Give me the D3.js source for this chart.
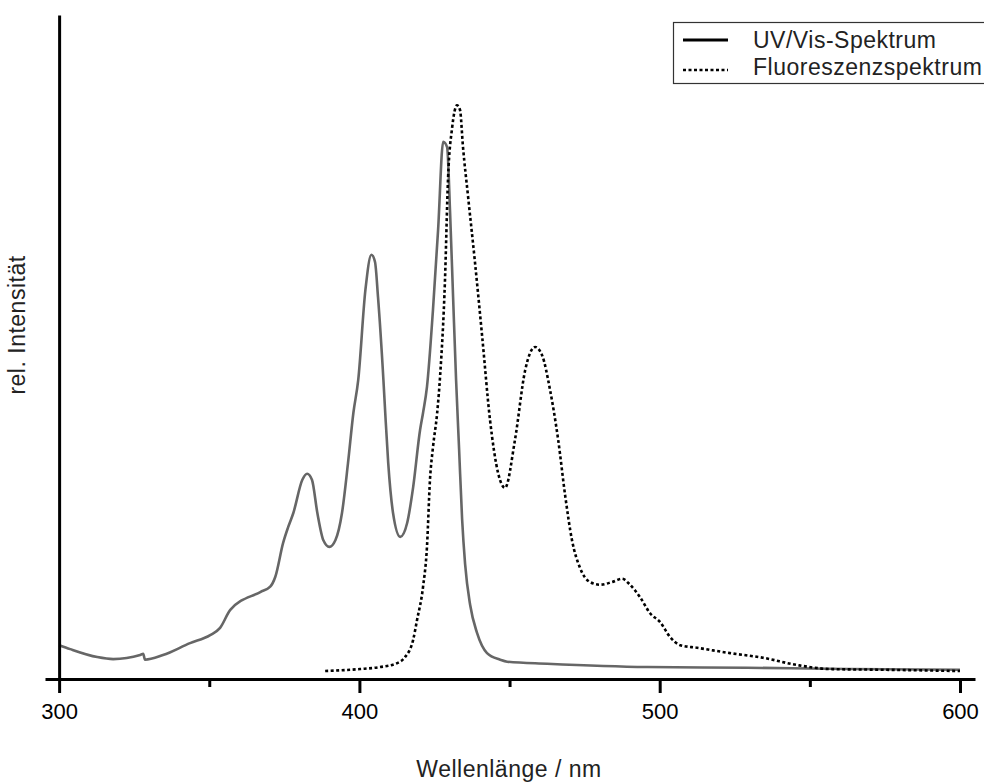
<!DOCTYPE html>
<html>
<head>
<meta charset="utf-8">
<script src="https://cdn.jsdelivr.net/npm/d3@7"></script>
<style>
  html, body { margin: 0; padding: 0; background: #fff; }
  svg { display: block; font-family: "Liberation Sans", Arial, sans-serif; }
</style>
</head>
<body>
<svg id="chart" width="984" height="783"></svg>
<script>
// ---- Data ----
const uvWavelength = [300, 303.7, 312.7, 318, 327, 328, 328.6, 334.6, 343.6, 350.3, 353.6, 357, 367, 370.3, 372, 374.6, 376.3, 378, 381, 382.6, 384.2, 386, 388, 390, 392, 394.2, 396.2, 398, 399.6, 402, 404, 405.2, 406.2, 408, 408.6, 409.6, 411.2, 413.6, 415.9, 417.9, 420.2, 421.2, 422.5, 424.5, 426.2, 427.9, 429.2, 430.2, 431.2, 432.2, 433.2, 434.2, 435.2, 436.9, 439.2, 442.5, 446.9, 449.2, 462.5, 495.8, 529.1, 562.4, 600];
const uvIntensity = [0.051, 0.045, 0.033, 0.030, 0.036, 0.038, 0.029, 0.036, 0.054, 0.066, 0.077, 0.104, 0.131, 0.139, 0.154, 0.205, 0.229, 0.250, 0.300, 0.309, 0.300, 0.250, 0.209, 0.199, 0.209, 0.250, 0.325, 0.401, 0.450, 0.586, 0.639, 0.628, 0.575, 0.450, 0.401, 0.325, 0.250, 0.214, 0.235, 0.289, 0.375, 0.401, 0.440, 0.556, 0.676, 0.809, 0.801, 0.702, 0.575, 0.450, 0.346, 0.241, 0.173, 0.111, 0.069, 0.039, 0.029, 0.026, 0.023, 0.018, 0.017, 0.015, 0.014];

const flWavelength = [388.6, 400.2, 406.9, 412.6, 415.2, 417.9, 419.2, 421.2, 422.5, 423.5, 424.5, 425.9, 426.9, 428.5, 429.5, 430.9, 432.5, 433.5, 434.5, 436.2, 438.5, 440.9, 443.5, 446.2, 448.5, 451.8, 455.2, 458.5, 460.8, 463.5, 466.2, 468.5, 470.8, 473.5, 476.8, 480.2, 484.1, 487.5, 490.1, 493.5, 496.8, 500.1, 503.5, 506.8, 512.5, 523.4, 534.4, 545.8, 556.7, 573.4, 600];
const flIntensity = [0.012, 0.015, 0.018, 0.024, 0.033, 0.059, 0.089, 0.139, 0.199, 0.300, 0.349, 0.401, 0.458, 0.601, 0.752, 0.831, 0.864, 0.857, 0.801, 0.726, 0.627, 0.515, 0.390, 0.310, 0.288, 0.360, 0.465, 0.500, 0.488, 0.435, 0.360, 0.277, 0.209, 0.167, 0.146, 0.142, 0.146, 0.151, 0.142, 0.123, 0.099, 0.086, 0.063, 0.051, 0.047, 0.039, 0.032, 0.021, 0.015, 0.014, 0.012];

const majorTicks = [300, 400, 500, 600];
const minorTicks = [350, 450, 550];
const xTitle = "Wellenlänge / nm";
const yTitle = "rel. Intensität";
const legendLabels = ["UV/Vis-Spektrum", "Fluoreszenzspektrum"];

// ---- Scales ----
const svg = d3.select("#chart");
const x = d3.scaleLinear().domain([295.3, 605]).range([45, 975]);
const y = d3.scaleLinear().domain([0, 1]).range([679, 15]);

// ---- Curves ----
const line = d3.line().x(d => x(d[0])).y(d => y(d[1])).curve(d3.curveMonotoneX);
const uvData = uvWavelength.map((w, i) => [w, uvIntensity[i]]);
const flData = flWavelength.map((w, i) => [w, flIntensity[i]]);

svg.append("path").datum(uvData)
  .attr("d", line).attr("fill", "none")
  .attr("stroke", "#666").attr("stroke-width", 2.6)
  .attr("stroke-linejoin", "round");

svg.append("path").datum(flData)
  .attr("d", line).attr("fill", "none")
  .attr("stroke", "#000").attr("stroke-width", 2.6)
  .attr("stroke-dasharray", "3,2.5");

// ---- Axes ----
const xAxisMajor = d3.axisBottom(x).tickValues(majorTicks).tickSize(14).tickSizeOuter(0).tickPadding(10).tickFormat(d3.format("d"));
const gx = svg.append("g").attr("transform", "translate(0,679)").call(xAxisMajor);
gx.select(".domain").attr("stroke", "#000").attr("stroke-width", 3);
gx.selectAll(".tick line").attr("stroke", "#000").attr("stroke-width", 3);
gx.selectAll(".tick text").attr("font-size", 22).attr("fill", "#000")
  .attr("font-family", "Liberation Sans, Arial, sans-serif");

const xAxisMinor = d3.axisBottom(x).tickValues(minorTicks).tickSize(8).tickFormat("");
const gxm = svg.append("g").attr("transform", "translate(0,679)").call(xAxisMinor);
gxm.select(".domain").remove();
gxm.selectAll(".tick line").attr("stroke", "#000").attr("stroke-width", 3);

const yAxis = d3.axisLeft(y).tickValues([]).tickSizeOuter(0);
const gy = svg.append("g").attr("transform", "translate(" + x(300) + ",0)").call(yAxis);
gy.select(".domain").attr("stroke", "#000").attr("stroke-width", 3);

// ---- Titles ----
svg.append("text").attr("x", 509).attr("y", 777)
  .attr("text-anchor", "middle").attr("font-size", 23).attr("letter-spacing", 0.5)
  .attr("fill", "#222").text(xTitle);

svg.append("text").attr("transform", "translate(25,325) rotate(-90)")
  .attr("text-anchor", "middle").attr("font-size", 23).attr("letter-spacing", 0.5)
  .attr("fill", "#222").text(yTitle);

// ---- Legend ----
const lg = svg.append("g");
lg.append("rect").attr("x", 673.5).attr("y", 22.5).attr("width", 340).attr("height", 61)
  .attr("fill", "#fff").attr("stroke", "#333").attr("stroke-width", 1.2);
const rowsY = [40, 70];
const baseY = [48, 75];
lg.append("line").attr("x1", 683).attr("x2", 728).attr("y1", rowsY[0]).attr("y2", rowsY[0])
  .attr("stroke", "#000").attr("stroke-width", 3);
lg.append("line").attr("x1", 683).attr("x2", 728).attr("y1", rowsY[1]).attr("y2", rowsY[1])
  .attr("stroke", "#000").attr("stroke-width", 2.6).attr("stroke-dasharray", "3,2.5");
legendLabels.forEach((t, i) => {
  lg.append("text").attr("x", 753).attr("y", baseY[i])
    .attr("font-size", 23).attr("letter-spacing", 0.5).attr("fill", "#222").text(t);
});
</script>
</body>
</html>
